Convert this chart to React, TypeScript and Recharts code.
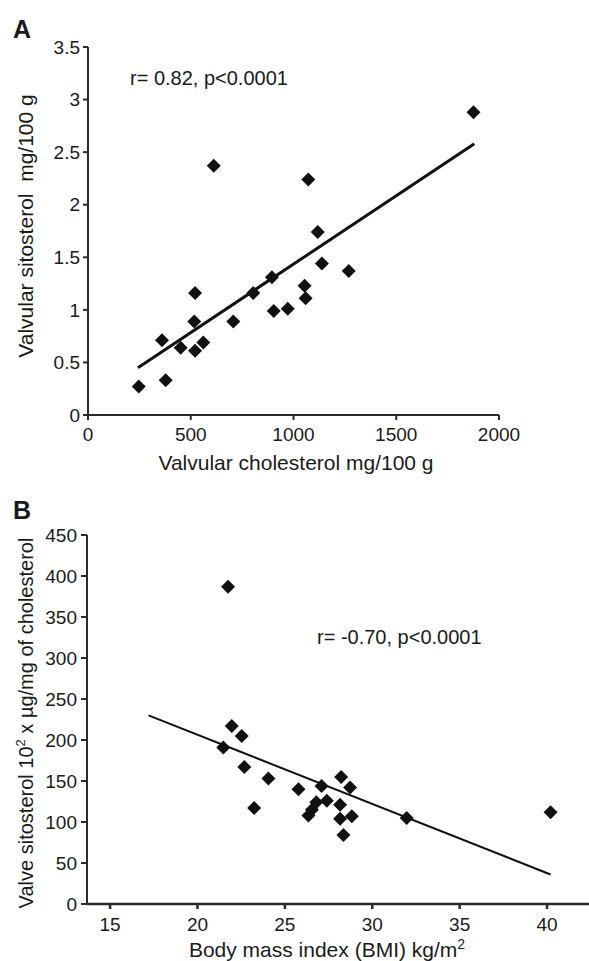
import { ScatterChart, Scatter, XAxis, YAxis, ReferenceLine } from 'recharts';

// Panel A: valvular cholesterol vs sitosterol (mg/100 g)
const cholA = [247, 360, 378, 451, 517, 521, 521, 561, 612, 707, 804, 895, 904, 972, 1054, 1059, 1072, 1118, 1138, 1269, 1876];
const sitoA = [0.27, 0.71, 0.33, 0.64, 0.89, 1.16, 0.61, 0.69, 2.37, 0.89, 1.16, 1.31, 0.99, 1.01, 1.23, 1.11, 2.24, 1.74, 1.44, 1.37, 2.88];
const fitAX = [243, 1880];
const fitAY = [0.45, 2.58];
const ticksAX = [0, 500, 1000, 1500, 2000];
const ticksAY = [0, 0.5, 1, 1.5, 2, 2.5, 3, 3.5];

// Panel B: BMI vs valve sitosterol
const bmiB = [21.75, 21.48, 21.96, 22.53, 22.68, 23.24, 24.06, 25.78, 26.35, 26.55, 26.8, 27.1, 27.4, 28.16, 28.16, 28.83, 28.35, 28.22, 28.73, 31.97, 40.2];
const sitoB = [387, 191, 217, 205, 167, 117, 153, 140, 108, 115, 124, 144, 126, 121, 104, 107, 84, 155, 142, 105, 112];
const fitBX = [17.2, 40.2];
const fitBY = [230, 36];
const ticksBX = [15, 20, 25, 30, 35, 40];
const ticksBY = [0, 50, 100, 150, 200, 250, 300, 350, 400, 450];

const dataA = cholA.map((x, i) => ({ x, y: sitoA[i] }));
const dataB = bmiB.map((x, i) => ({ x, y: sitoB[i] }));

const FONT = '"Liberation Sans", Arial, sans-serif';
const INK = '#1a1a1a';
const AXIS = '#2a2a2a';

const tick = { fill: INK, fontSize: 19, fontFamily: FONT };

function Diamond(props: any) {
  const { cx, cy } = props;
  const r = 7;
  return (
    <polygon
      points={`${cx},${cy - r} ${cx + r},${cy} ${cx},${cy + r} ${cx - r},${cy}`}
      fill="#111"
    />
  );
}

const textStyle: React.CSSProperties = {
  position: 'absolute',
  fontFamily: FONT,
  color: INK,
  whiteSpace: 'nowrap',
};

export default function App() {
  return (
    <div style={{ position: 'absolute', left: 0, top: 0, width: 589, height: 961, background: '#fff' }}>
      <div style={{ ...textStyle, left: 13, top: 17, fontSize: 25, lineHeight: '25px', fontWeight: 700 }}>A</div>
      <div style={{ ...textStyle, left: 13, top: 498, fontSize: 25, lineHeight: '25px', fontWeight: 700 }}>B</div>
      <div style={{ ...textStyle, left: 130, top: 68, fontSize: 20, lineHeight: '20px' }}>r= 0.82, p&lt;0.0001</div>
      <div style={{ ...textStyle, left: 317, top: 627, fontSize: 20, lineHeight: '20px' }}>r= -0.70, p&lt;0.0001</div>

      <div style={{ position: 'absolute', left: 0, top: 0 }}>
        <ScatterChart width={589} height={480} margin={{ top: 47, right: 90, bottom: 35, left: 0 }}>
          <XAxis
            type="number"
            dataKey="x"
            domain={[0, 2000]}
            ticks={ticksAX}
            height={30}
            tick={tick}
            tickSize={5}
            tickMargin={8}
            stroke={AXIS}
            strokeWidth={2}
            label={{
              content: () => (
                <text x={296} y={470} textAnchor="middle" fontSize={21} fontFamily={FONT} fill={INK}>
                  Valvular cholesterol mg/100 g
                </text>
              ),
            }}
          />
          <YAxis
            type="number"
            dataKey="y"
            domain={[0, 3.5]}
            ticks={ticksAY}
            width={88}
            tick={tick}
            tickSize={5}
            tickMargin={3}
            stroke={AXIS}
            strokeWidth={2}
            label={{
              content: () => (
                <text x={33} y={226} transform="rotate(-90 33 226)" textAnchor="middle" fontSize={21} fontFamily={FONT} fill={INK} style={{ whiteSpace: 'pre' }}>
                  {'Valvular sitosterol  mg/100 g'}
                </text>
              ),
            }}
          />
          <ReferenceLine
            segment={[{ x: fitAX[0], y: fitAY[0] }, { x: fitAX[1], y: fitAY[1] }]}
            stroke="#111"
            strokeWidth={3}
          />
          <Scatter data={dataA} shape={Diamond} isAnimationActive={false} />
        </ScatterChart>
      </div>

      <div style={{ position: 'absolute', left: 0, top: 480 }}>
        <ScatterChart width={589} height={481} margin={{ top: 55, right: 0, bottom: 27, left: 0 }}>
          <XAxis
            type="number"
            dataKey="x"
            domain={[13.68, 42.4]}
            ticks={ticksBX}
            height={30}
            tick={tick}
            tickSize={5}
            tickMargin={9}
            stroke={AXIS}
            strokeWidth={2.5}
            allowDataOverflow
            label={{
              content: () => (
                <text x={327} y={477} textAnchor="middle" fontSize={21} fontFamily={FONT} fill={INK}>
                  Body mass index (BMI) kg/m
                  <tspan dy={-8} fontSize={14}>2</tspan>
                </text>
              ),
            }}
          />
          <YAxis
            type="number"
            dataKey="y"
            domain={[0, 450]}
            ticks={ticksBY}
            width={87}
            tick={tick}
            tickSize={6}
            tickMargin={4}
            stroke={AXIS}
            strokeWidth={2}
            label={{
              content: () => (
                <text x={33} y={243} transform="rotate(-90 33 243)" textAnchor="middle" fontSize={20} fontFamily={FONT} fill={INK}>
                  Valve sitosterol 10
                  <tspan dy={-8} fontSize={13}>2</tspan>
                  <tspan dy={8}> x µg/mg of cholesterol</tspan>
                </text>
              ),
            }}
          />
          <ReferenceLine
            segment={[{ x: fitBX[0], y: fitBY[0] }, { x: fitBX[1], y: fitBY[1] }]}
            stroke="#111"
            strokeWidth={2}
          />
          <Scatter data={dataB} shape={Diamond} isAnimationActive={false} />
        </ScatterChart>
      </div>
    </div>
  );
}
